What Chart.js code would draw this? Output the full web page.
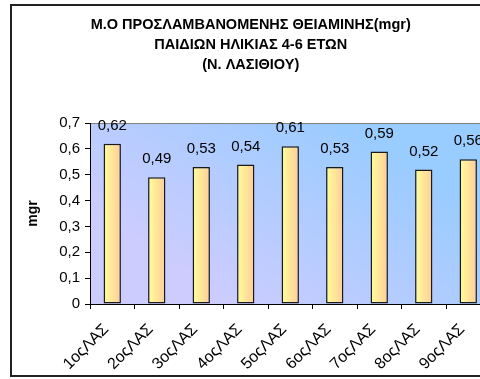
<!DOCTYPE html>
<html>
<head>
<meta charset="utf-8">
<script src="https://cdn.jsdelivr.net/npm/chart.js@4.4.0/dist/chart.umd.min.js"></script>
<style>
  html, body { margin: 0; padding: 0; background: #fff; overflow: hidden; width: 480px; height: 379px; }
  #chart { display: block; }
</style>
</head>
<body>
<canvas id="chart" width="500" height="379"></canvas>
<script>
  var categories = ['1οςΛΑΣ', '2οςΛΑΣ', '3οςΛΑΣ', '4οςΛΑΣ', '5οςΛΑΣ', '6οςΛΑΣ', '7οςΛΑΣ', '8οςΛΑΣ', '9οςΛΑΣ'];
  var values = [0.62, 0.49, 0.53, 0.54, 0.61, 0.53, 0.59, 0.52, 0.56];
  var titleLines = ['Μ.Ο ΠΡΟΣΛΑΜΒΑΝΟΜΕΝΗΣ ΘΕΙΑΜΙΝΗΣ(mgr)', 'ΠΑΙΔΙΩΝ ΗΛΙΚΙΑΣ 4-6 ΕΤΩΝ', '(Ν. ΛΑΣΙΘΙΟΥ)'];
  var yTitle = 'mgr';

  var fontFamily = '"Liberation Sans", Arial, sans-serif';
  var barPct = 0.39;

  function commaNum(v, digits) {
      if (v === 0) return '0';
      return v.toFixed(digits).replace('.', ',');
  }

  // plot background, plot frame and the outer chart border
  var framePlugin = {
      id: 'frame',
      beforeDraw: function(chart) {
          var ctx = chart.ctx;
          var a = chart.chartArea;
          var w = a.right - a.left;
          ctx.save();
          var g = ctx.createLinearGradient(a.left + w * 0.65, a.top, a.left + w * 0.35, a.bottom);
          g.addColorStop(0, '#99CCFF');
          g.addColorStop(1, '#CCCCFF');
          ctx.fillStyle = g;
          ctx.fillRect(a.left, a.top, w, a.bottom - a.top);
          ctx.strokeStyle = '#808080';
          ctx.lineWidth = 1;
          ctx.beginPath();
          ctx.moveTo(a.left, a.top + 0.5);
          ctx.lineTo(a.right, a.top + 0.5);
          ctx.lineTo(a.right, a.bottom);
          ctx.stroke();
          ctx.restore();
      },
      afterDraw: function(chart) {
          var ctx = chart.ctx;
          ctx.save();
          ctx.strokeStyle = '#222';
          ctx.lineWidth = 2;
          ctx.strokeRect(11, 5, 500, 371);
          ctx.restore();
      }
  };

  // value labels above the bars
  var valueLabels = {
      id: 'valueLabels',
      afterDatasetsDraw: function(chart) {
          var ctx = chart.ctx;
          var meta = chart.getDatasetMeta(0);
          ctx.save();
          ctx.font = '15px ' + fontFamily;
          ctx.fillStyle = '#000';
          ctx.textAlign = 'center';
          ctx.textBaseline = 'middle';
          meta.data.forEach(function(bar, i) {
              ctx.fillText(commaNum(values[i], 2), bar.x, bar.y - 18);
          });
          ctx.restore();
      }
  };

  function barFill(c) {
      var chart = c.chart;
      var xs = chart.scales.x;
      if (!xs || c.dataIndex === undefined) return '#FFFF99';
      var cx = xs.getPixelForValue(c.dataIndex);
      var w = (xs.right - xs.left) / categories.length * barPct;
      if (!isFinite(cx) || !isFinite(w) || w <= 0) return '#FFFF99';
      var g = chart.ctx.createLinearGradient(cx - w / 2, 0, cx + w / 2, 0);
      g.addColorStop(0, '#FFFF99');
      g.addColorStop(1, '#FFCC99');
      return g;
  }

  var ctx = document.getElementById('chart').getContext('2d');
  var myChart = new Chart(ctx, {
      type: 'bar',
      data: {
          labels: categories,
          datasets: [{
              data: values,
              backgroundColor: barFill,
              borderColor: '#1a1a1a',
              borderWidth: 1.5,
              borderSkipped: false,
              categoryPercentage: 1,
              barPercentage: barPct
          }]
      },
      options: {
          responsive: false,
          animation: false,
          layout: { padding: { left: 11, right: 9.5, top: 5, bottom: 5 } },
          plugins: {
              legend: { display: false },
              tooltip: { enabled: false },
              title: {
                  display: true,
                  text: titleLines,
                  color: '#000',
                  font: { family: fontFamily, size: 14.5, weight: 'bold', lineHeight: 1.38 },
                  padding: { top: 10, bottom: 48 }
              }
          },
          scales: {
              x: {
                  afterFit: function(scale) { scale.height = 70; },
                  grid: { display: true, offset: true, drawOnChartArea: false, drawTicks: true, tickLength: 5, color: '#000' },
                  border: { display: true, color: '#000', width: 1 },
                  ticks: {
                      color: '#000',
                      font: { family: fontFamily, size: 16 },
                      maxRotation: 45,
                      minRotation: 45,
                      autoSkip: false,
                      labelOffset: -6,
                      padding: 11
                  }
              },
              y: {
                  min: 0,
                  max: 0.7,
                  afterFit: function(scale) { scale.width = 79; },
                  grid: { display: true, drawOnChartArea: false, drawTicks: true, tickLength: 5, color: '#000' },
                  border: { display: true, color: '#000', width: 1 },
                  ticks: {
                      stepSize: 0.1,
                      color: '#000',
                      padding: 5,
                      font: { family: fontFamily, size: 15 },
                      callback: function(v) { return commaNum(v, 1); }
                  },
                  title: {
                      display: true,
                      text: yTitle,
                      color: '#000',
                      font: { family: fontFamily, size: 14, weight: 'bold' },
                      padding: { top: 14, bottom: 0 }
                  }
              }
          }
      },
      plugins: [framePlugin, valueLabels]
  });
</script>
</body>
</html>
